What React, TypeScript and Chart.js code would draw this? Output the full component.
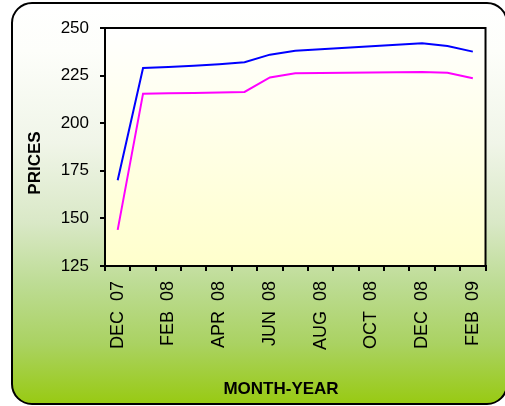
import React, { useEffect, useRef } from "react";
import { Chart, registerables } from "chart.js";

Chart.register(...registerables);

const months = [
  "DEC  07", "JAN  08", "FEB  08", "MAR  08", "APR  08", "MAY  08", "JUN  08", "JUL  08",
  "AUG  08", "SEP  08", "OCT  08", "NOV  08", "DEC  08", "JAN  09", "FEB  09",
];
const blueSeries = [170, 229, 229.5, 230.2, 231, 232, 236, 238, 238.8, 239.6, 240.4, 241.2, 242, 240.5, 237.6];
const magentaSeries = [144, 215.5, 215.7, 215.9, 216.1, 216.4, 224, 226.2, 226.3, 226.5, 226.6, 226.8, 226.9, 226.5, 223.6];
const yTicks = [125, 150, 175, 200, 225, 250];
const xTitle = "MONTH-YEAR";
const yTitle = "PRICES";

const FONT = "'Liberation Sans', Arial, sans-serif";

const bgPlugin = {
  id: "bgPlugin",
  beforeDraw(chart: any) {
    const { ctx, chartArea } = chart;
    ctx.save();
    const x0 = 12, y0 = 3, x1 = 507, y1 = 404, r = 20;
    const g = ctx.createLinearGradient(0, y0, 0, y1);
    g.addColorStop(0, "#FFFFFF");
    g.addColorStop(0.12, "#FDFEFA");
    g.addColorStop(0.35, "#F0F5E8");
    g.addColorStop(0.55, "#D9E8C6");
    g.addColorStop(0.7, "#BDDC94");
    g.addColorStop(0.85, "#AAD262");
    g.addColorStop(1, "#98CA12");
    ctx.beginPath();
    ctx.moveTo(x0 + r, y0);
    ctx.lineTo(x1 - r, y0);
    ctx.arcTo(x1, y0, x1, y0 + r, r);
    ctx.lineTo(x1, y1 - r);
    ctx.arcTo(x1, y1, x1 - r, y1, r);
    ctx.lineTo(x0 + r, y1);
    ctx.arcTo(x0, y1, x0, y1 - r, r);
    ctx.lineTo(x0, y0 + r);
    ctx.arcTo(x0, y0, x0 + r, y0, r);
    ctx.closePath();
    ctx.fillStyle = g;
    ctx.fill();
    ctx.lineWidth = 2;
    ctx.strokeStyle = "#000";
    ctx.stroke();
    const pg = ctx.createLinearGradient(0, chartArea.top, 0, chartArea.bottom);
    pg.addColorStop(0, "#FFFFFF");
    pg.addColorStop(1, "#FFFFCC");
    ctx.fillStyle = pg;
    ctx.fillRect(chartArea.left, chartArea.top, chartArea.right - chartArea.left, chartArea.bottom - chartArea.top);
    ctx.restore();
  },
  afterDraw(chart: any) {
    const { ctx, chartArea } = chart;
    ctx.save();
    ctx.lineWidth = 2;
    ctx.strokeStyle = "#000";
    ctx.strokeRect(chartArea.left, chartArea.top, chartArea.right - chartArea.left, chartArea.bottom - chartArea.top);
    // axis titles
    ctx.fillStyle = "#000";
    ctx.font = "bold 17px " + FONT;
    ctx.textAlign = "center";
    ctx.textBaseline = "middle";
    ctx.fillText(xTitle, 281, 389);
    ctx.translate(35.5, 163);
    ctx.rotate(-Math.PI / 2);
    ctx.fillText(yTitle, 0, 0);
    ctx.restore();
  },
};

export default function App() {
  const ref = useRef<HTMLCanvasElement>(null);
  useEffect(() => {
    if (!ref.current) return;
    const chart = new Chart(ref.current, {
      type: "line",
      data: {
        labels: months,
        datasets: [
          { data: blueSeries, borderColor: "#0000FF", borderWidth: 2, pointRadius: 0, tension: 0, fill: false },
          { data: magentaSeries, borderColor: "#FF00FF", borderWidth: 2, pointRadius: 0, tension: 0, fill: false },
        ],
      },
      options: {
        animation: false,
        responsive: false,
        maintainAspectRatio: false,
        layout: { padding: { left: 12, top: 28, right: 17, bottom: 0 } },
        plugins: { legend: { display: false }, tooltip: { enabled: false } },
        scales: {
          x: {
            type: "category",
            offset: true,
            grid: { offset: true, drawOnChartArea: false, drawTicks: true, tickLength: 5, color: "#000", lineWidth: 2 },
            border: { display: true, color: "#000", width: 2 },
            ticks: {
              autoSkip: false,
              maxRotation: 90,
              minRotation: 90,
              padding: 10,
              color: "#000",
              font: { family: FONT, size: 18 },
              callback: function (this: any, value: any, index: number) {
                return index % 2 === 0 ? this.getLabelForValue(value) : "";
              },
            },
            title: { display: false },
            afterFit: (scale: any) => {
              scale.height = 140;
            },
          },
          y: {
            min: 125,
            max: 250,
            afterBuildTicks: (scale: any) => {
              scale.ticks = yTicks.map((v) => ({ value: v }));
            },
            grid: { drawOnChartArea: false, drawTicks: true, tickLength: 5, color: "#000", lineWidth: 2 },
            border: { display: true, color: "#000", width: 2 },
            ticks: {
              padding: 11,
              color: "#000",
              font: { family: FONT, size: 17 },
            },
            title: { display: false },
            afterFit: (scale: any) => {
              scale.width = 93;
            },
          },
        },
      },
      plugins: [bgPlugin],
    } as any);
    return () => chart.destroy();
  }, []);
  return (
    <div style={{ position: "absolute", left: 0, top: 0, width: 505, height: 406 }}>
      <canvas ref={ref} width={505} height={406} />
    </div>
  );
}
